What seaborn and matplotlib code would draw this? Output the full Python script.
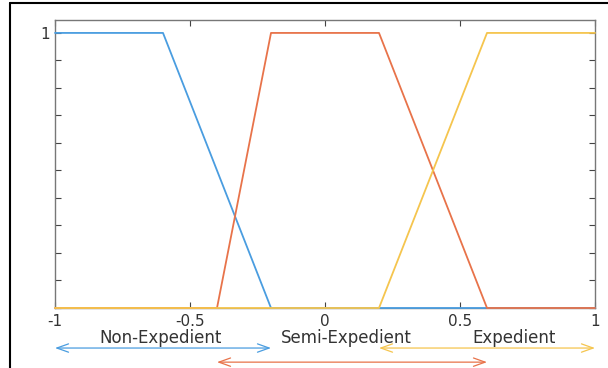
import matplotlib
matplotlib.use("Agg")
import matplotlib.pyplot as plt
import seaborn as sns
import pandas as pd
from matplotlib.lines import Line2D
from matplotlib.transforms import blended_transform_factory

# membership functions (trapezoids)
x_non = [-1, -0.6, -0.2, 1]
y_non = [1, 1, 0, 0]
x_semi = [-1, -0.4, -0.2, 0.2, 0.6, 1]
y_semi = [0, 0, 1, 1, 0, 0]
x_exp = [-1, 0.2, 0.6, 1]
y_exp = [0, 0, 1, 1]

labels = ["Non-Expedient", "Semi-Expedient", "Expedient"]
spans = [(-1, -0.2), (-0.4, 0.6), (0.2, 1)]
colors = ["#4a9de0", "#e8734a", "#f5c54e"]

xticks = [-1, -0.5, 0, 0.5, 1]
xticklabels = ["-1", "-0.5", "0", "0.5", "1"]

sns.set_theme(style="white")
plt.rcParams["font.family"] = ["DejaVu Sans"]

fig = plt.figure(figsize=(6.08, 3.68), dpi=100)
ax = fig.add_axes([55 / 608, 1 - 308 / 368, 540 / 608, 288 / 368])

for xs, ys, c in zip([x_non, x_semi, x_exp], [y_non, y_semi, y_exp], colors):
    df = pd.DataFrame({"x": xs, "y": ys})
    sns.lineplot(data=df, x="x", y="y", color=c, lw=1.3, ax=ax, sort=False)
for ln in ax.lines:
    ln.set_zorder(4)
    ln.set_clip_on(False)

ax.set_xlim(-1, 1)
ax.set_ylim(0, 1.047)
ax.set_xticks(xticks)
ax.set_xticklabels(xticklabels)
ax.set_yticks([i / 10 for i in range(11)])
ax.set_yticklabels([""] * 10 + ["1"])
ax.set_xlabel("")
ax.set_ylabel("")
ax.tick_params(direction="in", length=4, width=0.8, color="#444444",
               labelcolor="#333333", labelsize=11, top=True, right=True,
               left=True, bottom=True, pad=4)
for s in ax.spines.values():
    s.set_color("#777777")
    s.set_linewidth(1.0)

tr = blended_transform_factory(ax.transData, ax.transAxes)
text_x = [-0.61, 0.08, 0.7]
for lab, xt in zip(labels, text_x):
    ax.text(xt, -0.105, lab, transform=tr, ha="center", va="center",
            fontsize=12, color="#333333", clip_on=False)

arrow_y = [-0.139, -0.188, -0.139]
for (a, b), c, yy in zip(spans, colors, arrow_y):
    ax.annotate("", xy=(b, yy), xytext=(a, yy), xycoords=tr, textcoords=tr,
                arrowprops=dict(arrowstyle="<->,head_length=0.7,head_width=0.25",
                                color=c, lw=0.9, shrinkA=0, shrinkB=0),
                annotation_clip=False)

# outer frame from the screenshot
fig.add_artist(Line2D([10 / 608, 10 / 608], [0, 1 - 3 / 368], color="black", lw=1.5))
fig.add_artist(Line2D([10 / 608, 1], [1 - 3 / 368, 1 - 3 / 368], color="black", lw=1.5))

fig.savefig("out.png", dpi=100)
